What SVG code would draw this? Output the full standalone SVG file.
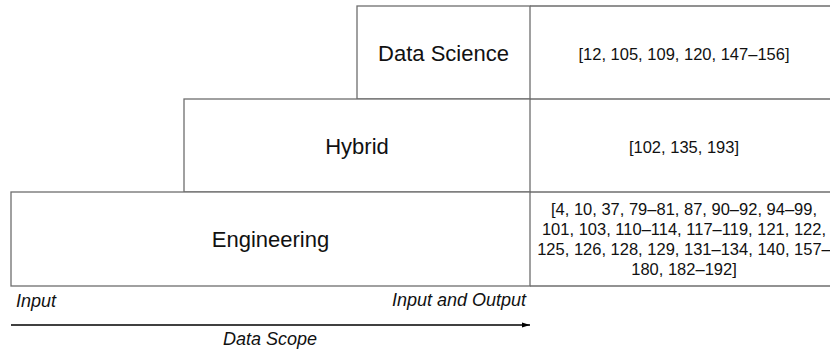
<svg xmlns="http://www.w3.org/2000/svg" width="830" height="352" viewBox="0 0 830 352">
  <style>
    .cell { fill: #ffffff; stroke: #6e6e6e; stroke-width: 1.3; }
    .title { font-family: "Liberation Sans", Arial, sans-serif; font-size: 22px; fill: #111; text-anchor: middle; }
    .refs { font-family: "Liberation Sans", Arial, sans-serif; font-size: 16.5px; fill: #111; text-anchor: middle; }
    .axis { font-family: "Liberation Sans", Arial, sans-serif; font-size: 18px; font-style: italic; fill: #111; }
  </style>
  <defs>
    <marker id="arrowhead" viewBox="0 0 8 6" refX="8" refY="3" markerWidth="8" markerHeight="6" markerUnits="userSpaceOnUse" orient="auto">
      <path d="M0,0.5 L8,3 L0,5.5 z" fill="#000"/>
    </marker>
  </defs>

  <!-- Data Science tier -->
  <g id="data-science">
    <rect class="cell" x="357" y="6" width="173" height="93"/>
    <text class="title" x="443.5" y="61">Data Science</text>
  </g>
  <g id="data-science-refs">
    <path class="cell" d="M530,6 H831 M530,99 H831" fill="none"/>
    <text class="refs" x="684" y="60">[12, 105, 109, 120, 147–156]</text>
  </g>

  <!-- Hybrid tier -->
  <g id="hybrid">
    <rect class="cell" x="184" y="99" width="346" height="93"/>
    <text class="title" x="357" y="153.5">Hybrid</text>
  </g>
  <g id="hybrid-refs">
    <path class="cell" d="M530,192 H831" fill="none"/>
    <text class="refs" x="684" y="153">[102, 135, 193]</text>
  </g>

  <!-- Engineering tier -->
  <g id="engineering">
    <rect class="cell" x="11" y="192" width="519" height="94"/>
    <text class="title" x="270.5" y="247">Engineering</text>
  </g>
  <g id="engineering-refs">
    <path class="cell" d="M530,286 H831" fill="none"/>
    <text class="refs" x="684" y="215">[4, 10, 37, 79–81, 87, 90–92, 94–99,</text>
    <text class="refs" x="684" y="235">101, 103, 110–114, 117–119, 121, 122,</text>
    <text class="refs" x="684" y="255">125, 126, 128, 129, 131–134, 140, 157–</text>
    <text class="refs" x="684" y="275">180, 182–192]</text>
  </g>

  <!-- Data scope axis -->
  <g id="axis-labels">
    <text class="axis" x="16" y="307">Input</text>
    <text class="axis" x="526" y="306" text-anchor="end">Input and Output</text>
    <text class="axis" x="270" y="345" text-anchor="middle">Data Scope</text>
  </g>
  <g id="connectors">
    <line x1="11" y1="325" x2="530" y2="325" stroke="#000" stroke-width="1.3" marker-end="url(#arrowhead)"/>
  </g>
</svg>
